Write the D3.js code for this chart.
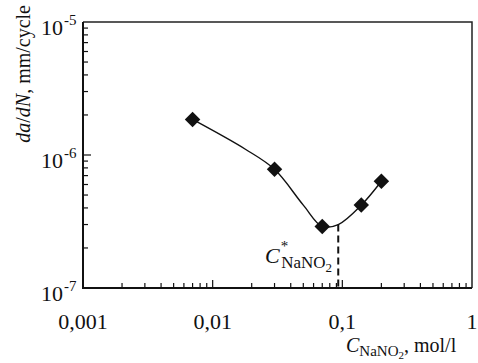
<!DOCTYPE html>
<html>
<head>
<meta charset="utf-8">
<script src="https://cdn.jsdelivr.net/npm/d3@7"></script>
<style>
  body { margin: 0; background: #fff; }
  svg text { font-family: "Liberation Serif", "Times New Roman", serif; fill: #111; }
</style>
</head>
<body>
<svg id="chart" width="478" height="363"></svg>
<script>
// concentration of NaNO2 (mol/l) and crack growth rate (mm/cycle)
const conc = [0.007, 0.03, 0.07, 0.14, 0.2];
const rate = [1.85e-6, 7.8e-7, 2.9e-7, 4.2e-7, 6.35e-7];

// hand-drawn fit line through the points
const fitConc = [0.007, 0.018, 0.03, 0.05, 0.07, 0.093, 0.14, 0.2];
const fitRate = [1.85e-6, 1.1e-6, 7.8e-7, 4.2e-7, 2.9e-7, 3.0e-7, 4.2e-7, 6.35e-7];

const critConc = 0.093;
const critRate = 3.0e-7;

const xTicks = [0.001, 0.01, 0.1, 1];
const xTickLabels = ["0,001", "0,01", "0,1", "1"];
const yTicks = [1e-7, 1e-6, 1e-5];
const yTickExp = ["-7", "-6", "-5"];

const margin = { left: 83, top: 22, right: 6, bottom: 75 };
const W = 478, H = 363;

const svg = d3.select("#chart");

const x = d3.scaleLog().domain([0.001, 1]).range([margin.left, W - margin.right]);
const y = d3.scaleLog().domain([1e-7, 1e-5]).range([H - margin.bottom, margin.top]);

const x0 = x.range()[0], x1 = x.range()[1];
const y0 = y.range()[0], y1 = y.range()[1];

// minor / major ticks inward
function minorVals(domain) {
  const out = [];
  for (let e = Math.log10(domain[0]); e < Math.log10(domain[1]); e++) {
    for (let k = 2; k <= 9; k++) out.push(k * Math.pow(10, e));
  }
  return out;
}

const ticks = svg.append("g").attr("stroke", "#111").attr("stroke-width", 1.2);
ticks.selectAll(".xm").data(minorVals(x.domain())).join("line")
  .attr("x1", d => x(d)).attr("x2", d => x(d))
  .attr("y1", y0).attr("y2", y0 - 5);
ticks.selectAll(".xM").data(xTicks.slice(1, -1)).join("line")
  .attr("x1", d => x(d)).attr("x2", d => x(d))
  .attr("y1", y0).attr("y2", y0 - 8);
ticks.selectAll(".ym").data(minorVals(y.domain())).join("line")
  .attr("y1", d => y(d)).attr("y2", d => y(d))
  .attr("x1", x0).attr("x2", x0 + 5);
ticks.selectAll(".yM").data(yTicks.slice(1, -1)).join("line")
  .attr("y1", d => y(d)).attr("y2", d => y(d))
  .attr("x1", x0).attr("x2", x0 + 8);

// frame
svg.append("path")
  .attr("d", `M${x0},${y1}H${x1}V${y0}`)
  .attr("fill", "none").attr("stroke", "#222").attr("stroke-width", 1.5);
svg.append("path")
  .attr("d", `M${x0},${y1}V${y0}H${x1}`)
  .attr("fill", "none").attr("stroke", "#111").attr("stroke-width", 2);

// x tick labels
svg.append("g").selectAll("text").data(xTicks).join("text")
  .attr("x", d => x(d)).attr("y", y0 + 41)
  .attr("text-anchor", "middle").attr("font-size", 22)
  .text((d, i) => xTickLabels[i]);

// y tick labels: 10 with exponent
const yl = svg.append("g").selectAll("g").data(yTicks).join("g")
  .attr("transform", d => `translate(63,${y(d)})`);
yl.append("text").attr("text-anchor", "end").attr("y", 13).attr("font-size", 22).text("10");
yl.append("text").attr("x", 1).attr("y", 3).attr("font-size", 15).text((d, i) => yTickExp[i]);

// fit line
const line = d3.line()
  .x(d => x(d[0])).y(d => y(d[1]))
  .curve(d3.curveCatmullRom.alpha(0.5));
svg.append("path")
  .datum(fitConc.map((c, i) => [c, fitRate[i]]))
  .attr("d", line)
  .attr("fill", "none").attr("stroke", "#111").attr("stroke-width", 1.4);

// dashed marker of critical concentration
svg.append("line")
  .attr("x1", x(critConc)).attr("x2", x(critConc))
  .attr("y1", y(critRate)).attr("y2", y0)
  .attr("stroke", "#111").attr("stroke-width", 2)
  .attr("stroke-dasharray", "7,4");

// data markers
const diamond = d3.symbol().type(d3.symbolSquare).size(120);
svg.append("g").selectAll("path").data(conc).join("path")
  .attr("d", diamond)
  .attr("transform", (d, i) => `translate(${x(d)},${y(rate[i])}) rotate(45)`)
  .attr("fill", "#111");

// annotation C*NaNO2
const ann = svg.append("text").attr("x", 265).attr("y", 263).attr("font-size", 22);
ann.append("tspan").attr("font-style", "italic").text("C");
ann.append("tspan").attr("font-size", 15).attr("dx", 1).attr("dy", -12).text("*");
ann.append("tspan").attr("font-size", 17).attr("dx", -7).attr("dy", 17).text("NaNO");
ann.append("tspan").attr("font-size", 13).attr("dy", 4).text("2");

// axis titles
const xt = svg.append("text").attr("x", 346).attr("y", 352).attr("font-size", 20);
xt.append("tspan").attr("font-style", "italic").text("C");
xt.append("tspan").attr("font-size", 15).attr("dy", 4).text("NaNO");
xt.append("tspan").attr("font-size", 11).attr("dy", 3).text("2");
xt.append("tspan").attr("dy", -7).text(", mol/l");

const yt = svg.append("text")
  .attr("transform", "translate(30,5) rotate(-90)")
  .attr("text-anchor", "end").attr("font-size", 20);
yt.append("tspan").attr("font-style", "italic").text("da");
yt.append("tspan").text("/");
yt.append("tspan").attr("font-style", "italic").text("dN");
yt.append("tspan").text(", mm/cycle");
</script>
</body>
</html>
